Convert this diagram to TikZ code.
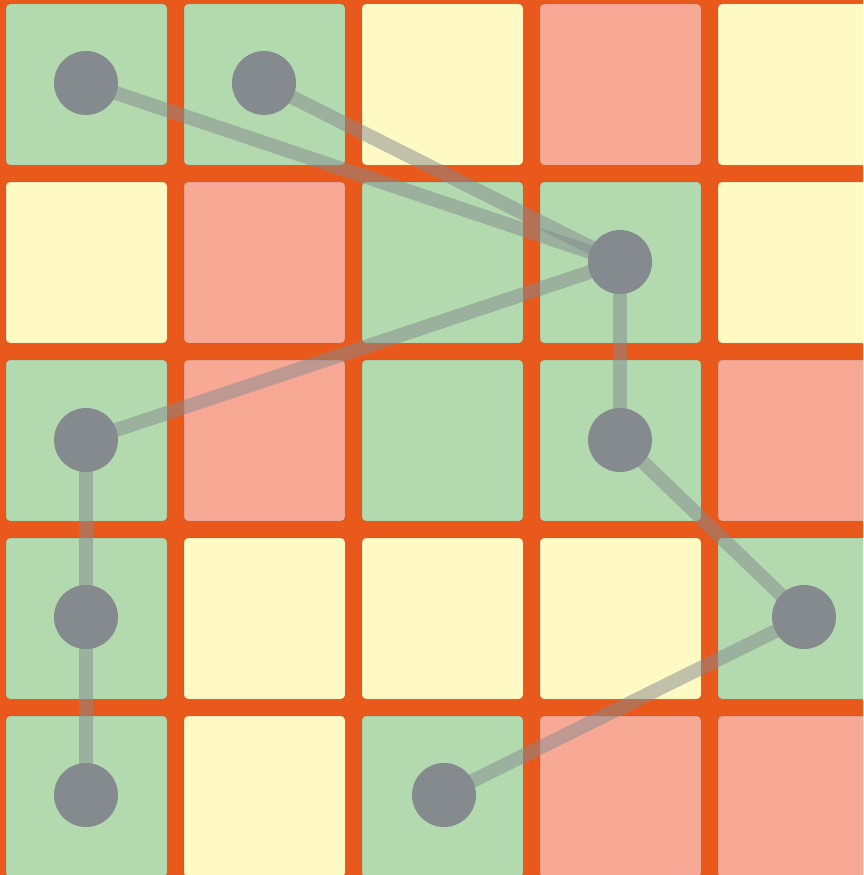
\documentclass[tikz,border=0pt]{standalone}
\definecolor{bgorange}{HTML}{E8591B}
\definecolor{cgreen}{HTML}{B3DAAE}
\definecolor{cyellow}{HTML}{FFF9C4}
\definecolor{cred}{HTML}{F8A995}
\definecolor{dotgray}{HTML}{858A8F}
\tikzset{
  cell/.style={rounded corners=4pt, draw=black, draw opacity=0.08, line width=1pt},
  G/.style={cell, fill=cgreen},
  Y/.style={cell, fill=cyellow},
  R/.style={cell, fill=cred},
  dot/.style={circle, fill=dotgray, minimum size=64pt, inner sep=0pt},
  link/.style={draw=dotgray, line width=14pt, opacity=0.5}
}
\begin{document}
\begin{tikzpicture}[x=1pt,y=-1pt]
\useasboundingbox (0,0) rectangle (863,875);
\clip (0,0) rectangle (863,875);
\fill[bgorange] (0,0) rectangle (863,875);
\foreach \row [count=\j from 0] in {{G,G,Y,R,Y},{Y,R,G,G,Y},{G,R,G,G,R},{G,Y,Y,Y,G},{G,Y,G,R,R}}{
  \foreach \c [count=\i from 0] in \row {
    \path[\c] ({6+178*\i},{4+178*\j}) rectangle ++(161,161);
  }
}
\path (86,83) coordinate (a) (264,83) coordinate (b) (620,262) coordinate (c)
      (86,440) coordinate (d) (620,440) coordinate (e) (86,617) coordinate (f)
      (804,617) coordinate (g) (86,795) coordinate (h) (444,795) coordinate (k);
\draw[link] (a) -- (c);
\draw[link] (b) -- (c);
\draw[link] (c) -- (d);
\draw[link] (c) -- (e);
\draw[link] (e) -- (g);
\draw[link] (g) -- (k);
\draw[link] (d) -- (f);
\draw[link] (f) -- (h);
\foreach \n in {a,b,c,d,e,f,g,h,k}{
  \node[dot] (n\n) at (\n) {};
}
\end{tikzpicture}
\end{document}
